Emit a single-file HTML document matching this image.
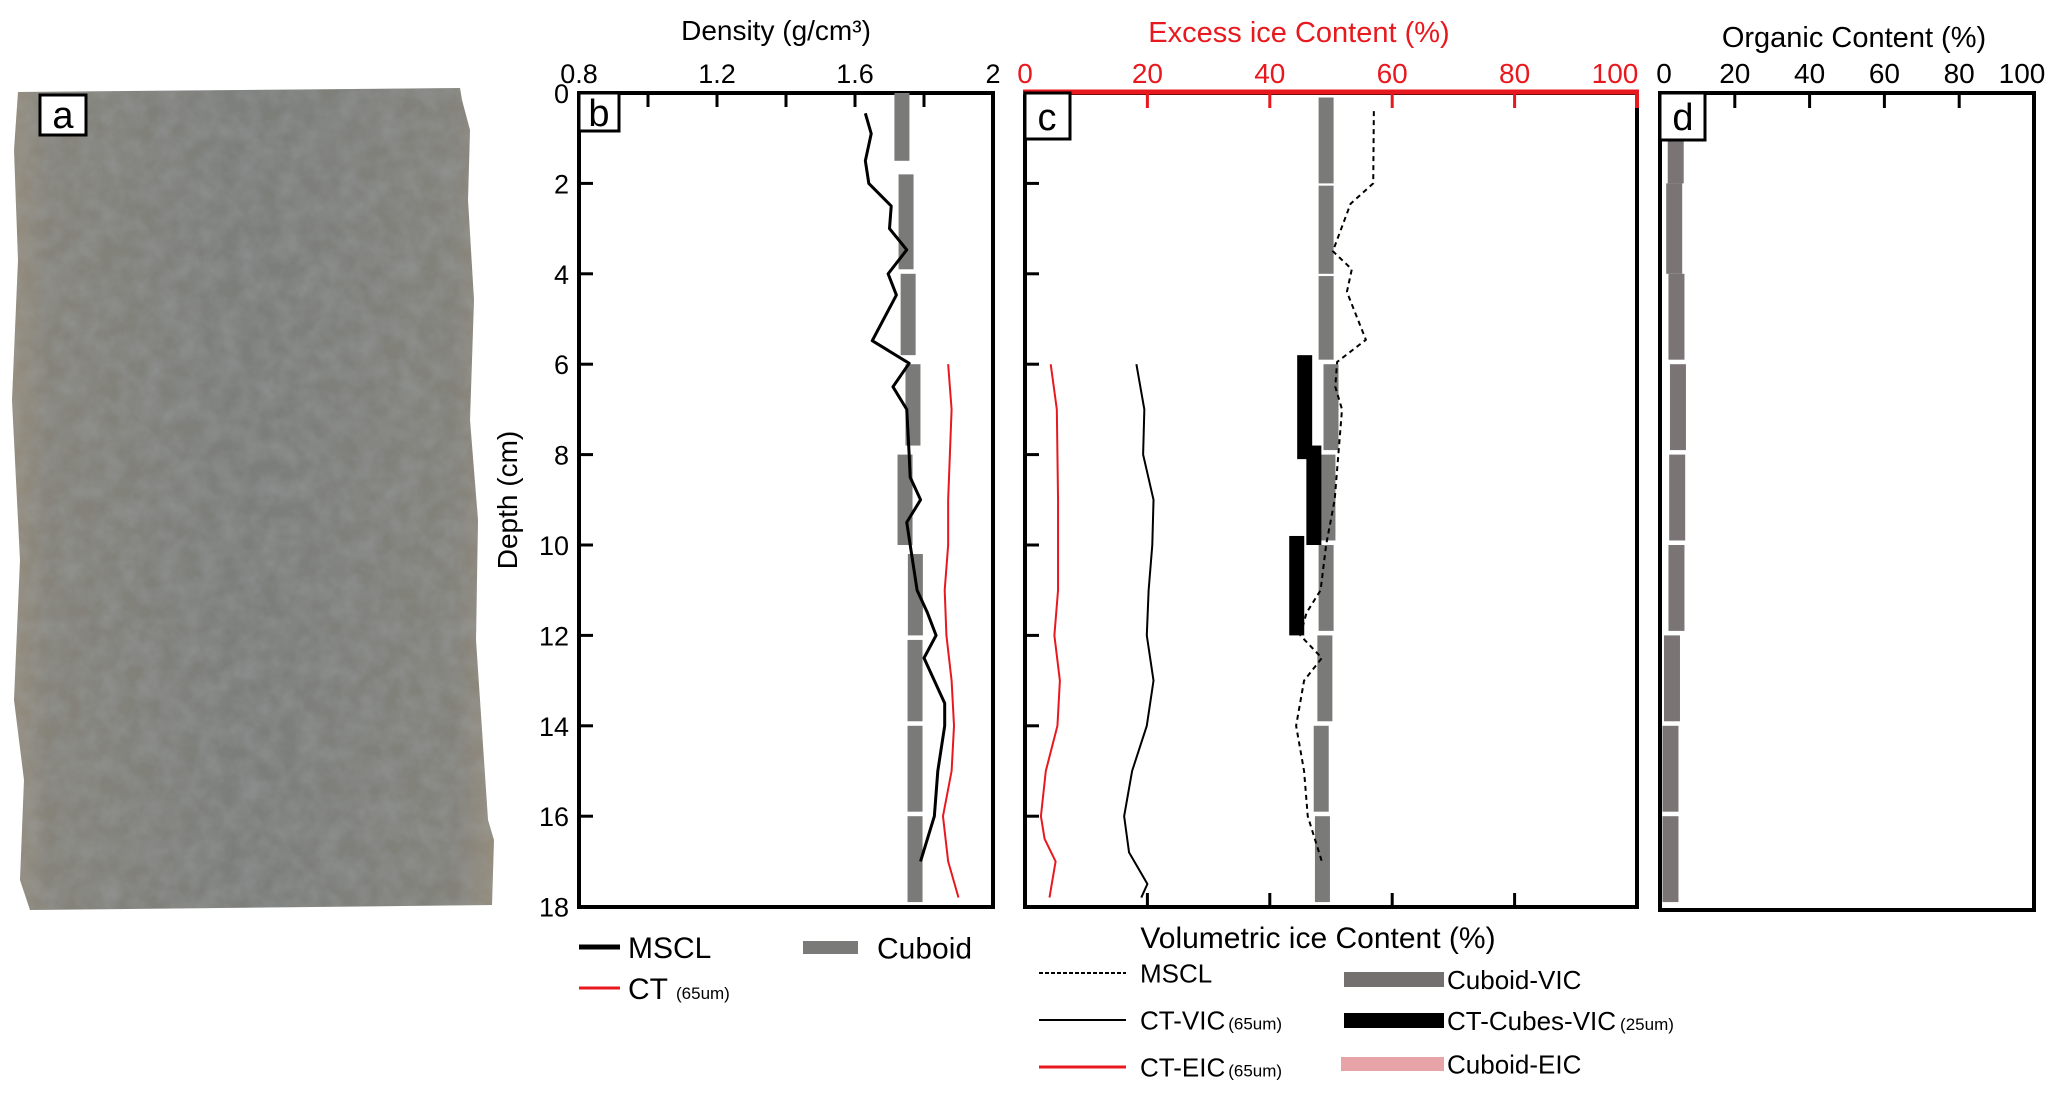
<!DOCTYPE html>
<html><head><meta charset="utf-8"><style>
html,body{margin:0;padding:0;background:#fff;}
svg{display:block;font-family:"Liberation Sans Narrow","Liberation Sans",sans-serif;}
</style></head><body>
<svg id="chart" width="2067" height="1100" viewBox="0 0 2067 1100" xmlns="http://www.w3.org/2000/svg">
<defs>
<filter id="grain" x="0" y="0" width="100%" height="100%">
<feTurbulence type="fractalNoise" baseFrequency="0.05" numOctaves="3" seed="3" result="n"/>
<feColorMatrix in="n" type="matrix" values="0 0 0 0 0.35  0 0 0 0 0.37  0 0 0 0 0.38  0 0 0 0.6 -0.15" result="c"/>
<feComposite in="c" in2="SourceGraphic" operator="in" result="m"/>
<feMerge><feMergeNode in="SourceGraphic"/><feMergeNode in="m"/></feMerge>
</filter>
<linearGradient id="coreg" x1="0" x2="1" y1="0" y2="0">
<stop offset="0" stop-color="#958c7c"/><stop offset="0.08" stop-color="#85837a"/>
<stop offset="0.5" stop-color="#7c7e7a"/><stop offset="0.92" stop-color="#83827a"/><stop offset="1" stop-color="#958c7c"/>
</linearGradient>
</defs>
<g>
<path d="M18,92 L460,88 L462,100 L470,130 L468,200 L474,300 L470,420 L478,520 L476,640 L484,760 L488,820 L494,840 L492,905 L30,910 L20,880 L24,780 L14,700 L20,560 L12,400 L18,260 L14,150 Z" fill="url(#coreg)" filter="url(#grain)"/>
<rect x="40" y="95" width="46" height="40" fill="#fff" stroke="#000" stroke-width="3"/>
<text x="63" y="128" font-size="38" text-anchor="middle" font-family="Liberation Sans, sans-serif">a</text>
</g>
<g id="plots"></g>
</svg>
<script>
// ---- data ----
const densMsclDepth=[0.45,0.9,1.5,2.0,2.5,3.0,3.47,4.0,4.47,5.48,5.98,6.5,7,8,8.5,9,9.5,10,11,11.5,12,12.5,13.5,14,15,16,17];
const densMsclVal=[1.63,1.647,1.63,1.64,1.705,1.70,1.75,1.696,1.72,1.65,1.757,1.71,1.75,1.757,1.76,1.79,1.75,1.76,1.78,1.81,1.835,1.80,1.86,1.86,1.84,1.83,1.79];
const densCtDepth=[6,7,8,9,10,11,12,13,14,15,16,17,17.8];
const densCtVal=[1.87,1.88,1.875,1.87,1.87,1.86,1.865,1.88,1.887,1.88,1.855,1.87,1.90];
const densCuboidTop=[0,1.8,4.0,6.0,8.0,10.2,12.1,14.0,16.0];
const densCuboidBot=[1.5,3.9,5.8,7.8,10.0,12.0,13.9,15.9,17.9];
const densCuboidVal=[1.736,1.748,1.754,1.768,1.745,1.775,1.774,1.774,1.774];
const vicCuboidTop=[0.1,2.05,4.05,6.0,8.0,10.0,12.0,14.0,16.0];
const vicCuboidBot=[2.0,4.0,5.9,7.9,9.9,11.9,13.9,15.9,17.9];
const vicCuboidVal=[49.2,49.2,49.2,50,49.5,49.2,49,48.4,48.6];
const ctCubeTop=[5.8,7.8,9.8];
const ctCubeBot=[8.1,10.0,12.0];
const ctCubeVal=[45.7,47.2,44.4];
const vicMsclDepth=[0.4,2.0,2.45,3.5,3.9,4.4,5.46,5.95,6.5,7,8,9,10,11,11.5,12,12.5,13,14,15,16,17];
const vicMsclVal=[57,56.9,53.2,50.3,53.4,52.6,55.7,51,50.7,51.8,51.2,50.6,49.2,48.3,46,45,48.5,45.6,44.3,45.6,46.2,48.5];
const ctVicDepth=[6,7,8,9,10,11,12,13,14,15,16,16.8,17.5,17.8];
const ctVicVal=[18.2,19.5,19.3,21,20.8,20.2,19.9,21,19.9,17.5,16.2,17,20,19];
const ctEicDepth=[6,7,8,9,10,11,12,13,14,15,16,16.5,17,17.8];
const ctEicVal=[4.2,5.2,5.3,5.4,5.4,5.4,4.8,5.7,5.3,3.4,2.6,3.2,5,4];
const orgTop=[0.1,2.0,4.0,6.0,8.0,10.0,12.0,14.0,16.0];
const orgBot=[2.0,4.0,5.9,7.9,9.9,11.9,13.9,15.9,17.9];
const orgVal=[4.2,3.8,4.4,4.8,4.6,4.4,3.2,2.8,2.8];
const depthTicks=[0,2,4,6,8,10,12,14,16,18];
const densTickLabels=["0.8","1.2","1.6","2"];
const pctTickLabels=["0","20","40","60","80","100"];

// ---- axes ----
const Y=d=>93+d*45.2;
const XB=v=>579+(v-0.8)*345;
const XC=p=>1025+p*6.12;
const XD=p=>1660+p*3.74;
const NS="http://www.w3.org/2000/svg";
const G=document.getElementById('plots');
function mk(tag,attrs,parent){const e=document.createElementNS(NS,tag);for(const k in attrs)e.setAttribute(k,attrs[k]);(parent||G).appendChild(e);return e;}
function txt(x,y,s,size,fill,anchor,parent){const t=mk('text',{x:x,y:y,'font-size':size,fill:fill||'#000','text-anchor':anchor||'middle'},parent);t.textContent=s;return t;}
function poly(xs,ys,fx,color,w,dash){return mk('polyline',{points:xs.map((d,i)=>fx(ys[i])+','+Y(d)).join(' '),fill:'none',stroke:color,'stroke-width':w,'stroke-dasharray':dash||'none','stroke-linejoin':'round'});}

// ===== Panel b =====
let e;
e=mk('rect',{x:579,y:93,width:414,height:814,fill:'none',stroke:'#000','stroke-width':4});


for(let v=1.0;v<1.95;v+=0.2){e=mk('line',{x1:XB(v),x2:XB(v),y1:93,y2:107,stroke:'#000','stroke-width':3});

}
densTickLabels.forEach(s=>{e=txt(XB(parseFloat(s)),83,s,27,'#000','middle');

});
e=txt(776,40,'Density (g/cm³)',28,'#000','middle');


depthTicks.forEach(d=>{
 if(d>0&&d<18){e=mk('line',{x1:579,x2:593,y1:Y(d),y2:Y(d),stroke:'#000','stroke-width':3});
 
 }
 e=txt(569,Y(d)+10,String(d),27,'#000','end');
 
 
});
e=txt(0,0,'Depth (cm)',28,'#000','middle');
e.setAttribute('transform','translate(517,500) rotate(-90)');


e=mk('rect',{x:579,y:93,width:40,height:38,fill:'#fff',stroke:'#000','stroke-width':3});


e=txt(599,126,'b',38,'#000','middle');


densCuboidVal.forEach((v,i)=>{e=mk('rect',{x:XB(v)-7.5,y:Y(densCuboidTop[i]),width:15,height:Y(densCuboidBot[i])-Y(densCuboidTop[i]),fill:'#7a7a78'});

});
e=poly(densMsclDepth,densMsclVal,XB,'#000',3);


e=poly(densCtDepth,densCtVal,XB,'#e8191e',2);



// ===== Panel c =====
e=mk('rect',{x:1025,y:93,width:612,height:814,fill:'none',stroke:'#000','stroke-width':4});


e=mk('line',{x1:1023,x2:1639,y1:92,y2:92,stroke:'#e8191e','stroke-width':5});


e=mk('line',{x1:1637,x2:1637,y1:92,y2:108,stroke:'#e8191e','stroke-width':4});


[20,40,60,80].forEach(p=>{
 e=mk('line',{x1:XC(p),x2:XC(p),y1:93,y2:108,stroke:'#e8191e','stroke-width':3});
 
 
 e=mk('line',{x1:XC(p),x2:XC(p),y1:907,y2:893,stroke:'#000','stroke-width':3});
 
 
});
pctTickLabels.forEach(s=>{const p=+s;e=txt(p===100?XC(p)-22:XC(p),83,s,28,'#e8191e','middle');

});
e=txt(1299,42,'Excess ice Content (%)',29,'#e8191e','middle');


[2,4,6,8,10,12,14,16].forEach(d=>{e=mk('line',{x1:1025,x2:1039,y1:Y(d),y2:Y(d),stroke:'#000','stroke-width':3});

});
e=mk('rect',{x:1025,y:93,width:45,height:46,fill:'#fff',stroke:'#000','stroke-width':3});


e=txt(1047,130,'c',38,'#000','middle');


vicCuboidVal.forEach((v,i)=>{e=mk('rect',{x:XC(v)-7.5,y:Y(vicCuboidTop[i]),width:15,height:Y(vicCuboidBot[i])-Y(vicCuboidTop[i]),fill:'#7a7a78'});

});
ctCubeVal.forEach((v,i)=>{e=mk('rect',{x:XC(v)-7.5,y:Y(ctCubeTop[i]),width:15,height:Y(ctCubeBot[i])-Y(ctCubeTop[i]),fill:'#000'});

});
e=poly(vicMsclDepth,vicMsclVal,XC,'#000',2,'5,4');


e=poly(ctVicDepth,ctVicVal,XC,'#000',2);


e=poly(ctEicDepth,ctEicVal,XC,'#e8191e',2);


e=txt(1318,948,'Volumetric ice Content (%)',30,'#000','middle');



// ===== Panel d =====
e=mk('rect',{x:1660,y:93,width:374,height:817,fill:'none',stroke:'#000','stroke-width':4});


[20,40,60,80].forEach(p=>{e=mk('line',{x1:XD(p),x2:XD(p),y1:93,y2:108,stroke:'#000','stroke-width':3});

});
pctTickLabels.forEach(s=>{const p=+s;e=txt(p===100?XD(p)-12:XD(p)+(p===0?4:0),83,s,28,'#000','middle');

});
e=txt(1854,47,'Organic Content (%)',29,'#000','middle');


orgVal.forEach((v,i)=>{e=mk('rect',{x:XD(v)-8,y:Y(orgTop[i]),width:16,height:Y(orgBot[i])-Y(orgTop[i]),fill:'#7a7474'});

});
e=mk('rect',{x:1660,y:93,width:45,height:47,fill:'#fff',stroke:'#000','stroke-width':3});


e=txt(1683,130,'d',38,'#000','middle');



// ===== Legends =====
function legLine(x1,x2,y,color,w,dash,label,lx,size,name){
 e=mk('line',{x1:x1,x2:x2,y1:y,y2:y,stroke:color,'stroke-width':w,'stroke-dasharray':dash||'none'});
 
 
 e=txt(lx,y+size*0.36,label,size,'#000','start');
 
 
 return e;
}
function legRect(x,y,w,h,color,label,lx,size,name){
 e=mk('rect',{x:x,y:y,width:w,height:h,fill:color});
 
 
 e=txt(lx,y+h/2+size*0.36,label,size,'#000','start');
 
 
 return e;
}
legLine(579,620,947,'#000',5,null,'MSCL',628,30,'legend-density-mscl');
legRect(803,941,55,13,'#7a7a78','Cuboid',877,30,'legend-density-cuboid');
let ct=legLine(579,620,988,'#e8191e',3,null,'CT',628,30,'legend-density-ct');
let sm=mk('tspan',{'font-size':17,dx:8});sm.textContent='(65um)';ct.appendChild(sm);
legLine(1039,1126,973,'#000',2,'4,2','MSCL',1140,26,'legend-vic-mscl');
let a=legLine(1039,1126,1020,'#000',2,null,'CT-VIC',1140,26,'legend-ct-vic');
sm=mk('tspan',{'font-size':17,dx:3});sm.textContent='(65um)';a.appendChild(sm);
a=legLine(1039,1126,1067,'#e8191e',3,null,'CT-EIC',1140,26,'legend-ct-eic');
sm=mk('tspan',{'font-size':17,dx:3});sm.textContent='(65um)';a.appendChild(sm);
legRect(1344,972,100,15,'#757070','Cuboid-VIC',1447,26,'legend-cuboid-vic');
a=legRect(1344,1013,100,15,'#000','CT-Cubes-VIC',1447,26,'legend-ct-cubes-vic');
sm=mk('tspan',{'font-size':17,dx:4});sm.textContent='(25um)';a.appendChild(sm);
legRect(1341,1057,103,14,'#e6a4a8','Cuboid-EIC',1447,26,'legend-cuboid-eic');
</script>
</body></html>
